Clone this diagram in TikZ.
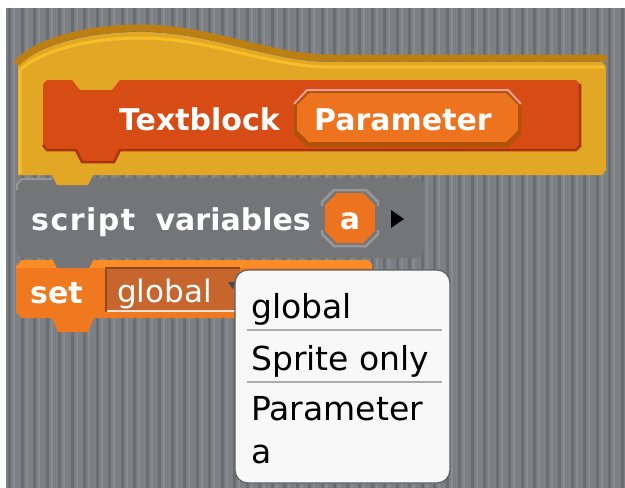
\documentclass[tikz,border=0pt]{standalone}
\usepackage{fontspec}
\setmainfont{DejaVu Sans}
\definecolor{bggray}{RGB}{124,128,132}
\definecolor{stripedark}{RGB}{106,110,114}
\definecolor{stripelight}{RGB}{136,140,144}
\definecolor{hatyellow}{RGB}{226,167,36}
\definecolor{hatlight}{RGB}{246,190,40}
\definecolor{hatdark}{RGB}{188,128,18}
\definecolor{blockred}{RGB}{214,76,20}
\definecolor{blockreddark}{RGB}{170,52,10}
\definecolor{paramorange}{RGB}{238,115,30}
\definecolor{paramdark}{RGB}{176,82,8}
\definecolor{parampink}{RGB}{240,160,150}
\definecolor{scriptgray}{RGB}{116,117,119}
\definecolor{scriptlight}{RGB}{150,151,153}
\definecolor{setorange}{RGB}{240,120,30}
\definecolor{setlight}{RGB}{252,140,40}
\definecolor{slotbrown}{RGB}{198,102,46}
\definecolor{slotdark}{RGB}{150,70,25}
\definecolor{menubg}{RGB}{248,248,248}
\definecolor{menuborder}{RGB}{95,95,95}
\definecolor{sepgray}{RGB}{170,170,170}
\tikzset{
  blocklabel/.style={text=white, inner sep=0pt, font=\fontsize{30}{36}\selectfont\bfseries},
  slotlabel/.style={text=white, inner sep=0pt, font=\fontsize{31}{36}\selectfont},
  menulabel/.style={text=black, inner sep=0pt, font=\fontsize{33}{38}\selectfont},
  separator/.style={sepgray, line width=2.5pt},
}
\begin{document}
\begin{tikzpicture}[x=1pt,y=-1pt]
\useasboundingbox (0,0) rectangle (625,488);
\fill[white] (0,0) rectangle (625,488);
% striped background
\fill[bggray] (6,8) rectangle (625,488);
\foreach \i in {0,...,49} {
  \fill[stripedark] ({8+\i*12.5},8) rectangle ({11+\i*12.5},488);
  \fill[stripelight] ({13+\i*12.5},8) rectangle ({15+\i*12.5},488);
}
% set block
\fill[setorange] (22,260) -- (368,260) -- (372,264) -- (372,314) -- (368,318) -- (94,318) -- (88,332) -- (58,332) -- (52,318) -- (22,318) -- (16,312) -- (16,266) -- cycle;
\fill[setlight] (22,260) -- (368,260) -- (372,264) -- (372,268) -- (16,268) -- (16,266) -- cycle;
% slot in set block
\fill[slotbrown] (106,268) rectangle (240,312);
\draw[slotdark, line width=1.5pt] (106,312) -- (106,268) -- (240,268);
\draw[white!80!slotbrown, line width=2pt] (107,311) -- (240,311);
\node[blocklabel, anchor=base west] (settxt) at (30,303) {set};
\node[slotlabel, anchor=base west] (slottxt) at (117,302) {global};
\fill[black!70] (228,282) -- (237,282) -- (232.5,289) -- cycle;
% script variables block
\fill[scriptgray] (22,178) -- (418,178) -- (424,184) -- (424,252) -- (418,258) -- (94,258) -- (89,268) -- (57,268) -- (52,258) -- (22,258) -- (16,252) -- (16,184) -- cycle;
\draw[scriptlight, line width=2pt] (17,190) -- (17,184) -- (22,179) -- (52,179);
\node[blocklabel, anchor=base west] (svtxt) at (31,230) {s\kern1.5pt c\kern1.5pt r\kern1.5pt i\kern1.5pt p\kern1.5pt t\hspace{10pt} variables};
\draw[scriptlight, line width=2.5pt] (322,206) -- (322,202) -- (334,190) -- (366,190) -- (378,202) -- (378,206);
\draw[scriptlight, line width=2.5pt] (322,230) -- (322,234) -- (334,246) -- (366,246) -- (378,234) -- (378,230);
\fill[paramorange] (337,193) -- (363,193) -- (375,205) -- (375,231) -- (363,243) -- (337,243) -- (325,231) -- (325,205) -- cycle;
\node[blocklabel, anchor=base] (atxt) at (350,229) {a};
\fill[black] (391,210) -- (404,219) -- (391,228) -- cycle;
% hat block
\fill[hatyellow] (18,175) -- (18,66) .. controls (40,44) and (90,32) .. (140,32) .. controls (210,32) and (270,62) .. (330,62) -- (602,62) -- (606,66) -- (606,170) -- (602,175) -- (93,175) -- (88,185) -- (57,185) -- (52,175) -- cycle;
\draw[hatlight, line width=3pt] (20,174) -- (20,70) .. controls (42,50) and (90,38) .. (140,38) .. controls (210,38) and (270,67) .. (330,67) -- (604,67);
\draw[hatdark, line width=7pt, line cap=round] (18,62) .. controls (40,40) and (90,28) .. (140,28) .. controls (210,28) and (270,58) .. (330,58) -- (604,58);
% Textblock inner block
\fill[blockred] (47,80) -- (72,80) -- (80,90) -- (112,90) -- (120,80) -- (576,80) -- (580,84) -- (580,146) -- (576,150) -- (120,150) -- (114,162) -- (82,162) -- (76,150) -- (47,150) -- (43,146) -- (43,84) -- cycle;
\draw[blockreddark, line width=2.5pt] (43,145) -- (47,150) -- (76,150) -- (82,162) -- (114,162) -- (120,150) -- (576,150) -- (580,146) -- (580,84);
\node[blocklabel, anchor=base west] (tbtxt) at (119,130) {Textblock};
% Parameter slot
\fill[paramdark] (307,91) -- (508,91) -- (521,104) -- (521,134) -- (508,147) -- (307,147) -- (294,134) -- (294,104) -- cycle;
\draw[parampink, line width=2pt] (294,104) -- (307,90) -- (508,90) -- (521,104);
\fill[paramorange] (309,93) -- (506,93) -- (518,105) -- (518,130) -- (506,142) -- (309,142) -- (297,130) -- (297,105) -- cycle;
\node[blocklabel, anchor=base west] (partxt) at (314,130) {Parameter};
% drop-down menu
\draw[menuborder, line width=1.2pt, fill=menubg, rounded corners=13pt] (235,270) rectangle (450,483);
\node[menulabel, anchor=base west] (m1) at (251,318) {global};
\draw[separator] (247,330) -- (442,330);
\node[menulabel, anchor=base west] (m2) at (251,370) {Sprite only};
\draw[separator] (247,382) -- (442,382);
\node[menulabel, anchor=base west] (m3) at (251,420) {Parameter};
\node[menulabel, anchor=base west] (m4) at (251,463) {a};
\end{tikzpicture}
\end{document}
